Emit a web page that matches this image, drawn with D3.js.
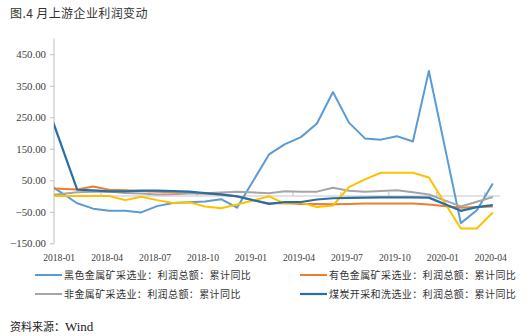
<!DOCTYPE html>
<html>
<head>
<meta charset="utf-8">
<script src="https://cdn.jsdelivr.net/npm/d3@7/dist/d3.min.js"></script>
<style>
  body { margin: 0; background: #fff; }
  svg { display: block; }
  .serif { font-family: "Liberation Serif", "Times New Roman", "DejaVu Serif", serif; }
</style>
</head>
<body>
<svg id="chart" width="532" height="336"></svg>
<script>
// Reporting months (cumulative data; January is merged into February)
const months = [
  "2017-12",
  "2018-02","2018-03","2018-04","2018-05","2018-06","2018-07","2018-08","2018-09","2018-10","2018-11","2018-12",
  "2019-02","2019-03","2019-04","2019-05","2019-06","2019-07","2019-08","2019-09","2019-10","2019-11","2019-12",
  "2020-02","2020-03","2020-04"
];

// Cumulative YoY growth of total profit, %
const blackMetal = [45, -23, -40, -47, -47, -52, -32, -22, -20, -17, -10, -37,
  132, 165, 187, 230, 330, 233, 183, 179, 190, 173, 397, -86, -45, 40];
const nonFerrous = [25, 21, 30, 20, 18, 16, 14, 12, 10, 8, 4, -1,
  -24, -22, -25, -25, -26, -25, -24, -24, -24, -24, -27, -37, -35, -33];
const nonMetal = [1, 12, 14, 14, 10, 8, 5, 6, 8, 9, 11, 14,
  9, 15, 14, 14, 26, 17, 14, 16, 18, 12, 5, -33, -18, -3];
const otherMining = [0, 0, 0, 0, -13, -2, -13, -22, -20, -33, -39, -27,
  -1, -24, -21, -35, -30, 28, 53, 74, 74, 74, 59, -103, -103, -52];
const coal = [305, 20, 18, 15, 15, 17, 17, 16, 14, 9, 5, -1,
  -25, -19, -19, -11, -7, -6, -5, -4, -4, -4, -5, -47, -35, -29];

const xTickLabels = ["2018-01","2018-04","2018-07","2018-10","2019-01","2019-04","2019-07","2019-10","2020-01","2020-04"];
const yTicks = [-150, -50, 50, 150, 250, 350, 450];

const seriesNames = [
  "黑色金属矿采选业：利润总额：累计同比",
  "有色金属矿采选业：利润总额：累计同比",
  "非金属矿采选业：利润总额：累计同比",
  "",
  "煤炭开采和洗选业：利润总额：累计同比"
];
const seriesValues = [blackMetal, nonFerrous, nonMetal, otherMining, coal];
const colors = ["#5B9BD5", "#ED7D31", "#A5A5A5", "#FFC000", "#2A6EA6"];
const widths = [2, 2, 2, 2, 2.2];

const monthIndex = s => {
  const [y, m] = s.split("-").map(Number);
  return (y - 2018) * 12 + (m - 1);
};

const svg = d3.select("#chart");
const cjk = "'Noto Sans CJK SC', 'Noto Sans', sans-serif";

const plot = { left: 54, right: 500, top: 38.5, bottom: 243.3 };

const x = d3.scaleLinear().domain([-0.45, 27.45]).range([plot.left, plot.right]);
const y = d3.scaleLinear().domain([-150, 500]).range([plot.bottom, plot.top]);

// Title
svg.append("text")
  .attr("x", 10).attr("y", 18)
  .attr("font-family", cjk).attr("font-size", 12)
  .attr("letter-spacing", 0.4)
  .attr("fill", "#333")
  .text("图.4 月上游企业利润变动");

// Y axis
const yAxis = d3.axisLeft(y).tickValues(yTicks).tickSize(4).tickPadding(4)
  .tickFormat(d3.format(".2f"));
const gy = svg.append("g").attr("transform", `translate(${plot.left},0)`).call(yAxis);
gy.attr("font-family", null);
gy.select(".domain").attr("stroke", "#bfbfbf").attr("d", `M0,${plot.top}V${plot.bottom}`);
gy.selectAll(".tick line").attr("stroke", "#bfbfbf");
gy.selectAll(".tick text")
  .attr("class", "serif").attr("font-size", 10.8).attr("fill", "#404040");

// Zero line with quarterly tick marks
const zeroY = y(0);
svg.append("line")
  .attr("x1", plot.left).attr("x2", plot.right)
  .attr("y1", zeroY).attr("y2", zeroY)
  .attr("stroke", "#d9d9d9").attr("stroke-width", 1.5);
svg.append("g").selectAll("line")
  .data(xTickLabels.slice(1))
  .join("line")
  .attr("x1", d => x(monthIndex(d) - 0.5)).attr("x2", d => x(monthIndex(d) - 0.5))
  .attr("y1", zeroY).attr("y2", zeroY - 4)
  .attr("stroke", "#bfbfbf").attr("stroke-width", 1);

// X labels along the bottom
svg.append("g").selectAll("text")
  .data(xTickLabels)
  .join("text")
  .attr("class", "serif")
  .attr("x", d => x(monthIndex(d)) - 2)
  .attr("y", 260.5)
  .attr("text-anchor", "middle")
  .attr("font-size", 9.6).attr("fill", "#404040")
  .text(d => d);

// Lines, clipped to the plot area
svg.append("clipPath").attr("id", "plotClip")
  .append("rect")
  .attr("x", plot.left).attr("y", plot.top - 5)
  .attr("width", plot.right - plot.left + 5).attr("height", plot.bottom - plot.top + 10);

const line = d3.line()
  .x(d => x(d.i))
  .y(d => y(d.v));

const gLines = svg.append("g").attr("clip-path", "url(#plotClip)");
seriesValues.forEach((vals, k) => {
  const pts = months.map((m, j) => ({ i: monthIndex(m), v: vals[j] }));
  gLines.append("path")
    .datum(pts)
    .attr("fill", "none")
    .attr("stroke", colors[k])
    .attr("stroke-width", widths[k])
    .attr("stroke-linejoin", "round")
    .attr("d", line);
});

// Legend
const legendItems = [
  { k: 0, x: 35, y: 275 },
  { k: 1, x: 300, y: 275 },
  { k: 2, x: 35, y: 294 },
  { k: 4, x: 300, y: 294 }
];
const lg = svg.append("g");
legendItems.forEach(it => {
  lg.append("line")
    .attr("x1", it.x).attr("x2", it.x + 27)
    .attr("y1", it.y).attr("y2", it.y)
    .attr("stroke", colors[it.k]).attr("stroke-width", widths[it.k]);
  lg.append("text")
    .attr("x", it.x + 29).attr("y", it.y + 3.6)
    .attr("font-family", cjk).attr("font-size", 10)
    .attr("letter-spacing", 0.4)
    .attr("fill", "#333")
    .text(seriesNames[it.k]);
});

// Source note
const src = svg.append("text")
  .attr("x", 10).attr("y", 331)
  .attr("fill", "#222");
src.append("tspan").attr("font-family", cjk).attr("font-size", 11).text("资料来源：");
src.append("tspan").attr("class", "serif").attr("font-size", 13).text("Wind");
</script>
</body>
</html>
